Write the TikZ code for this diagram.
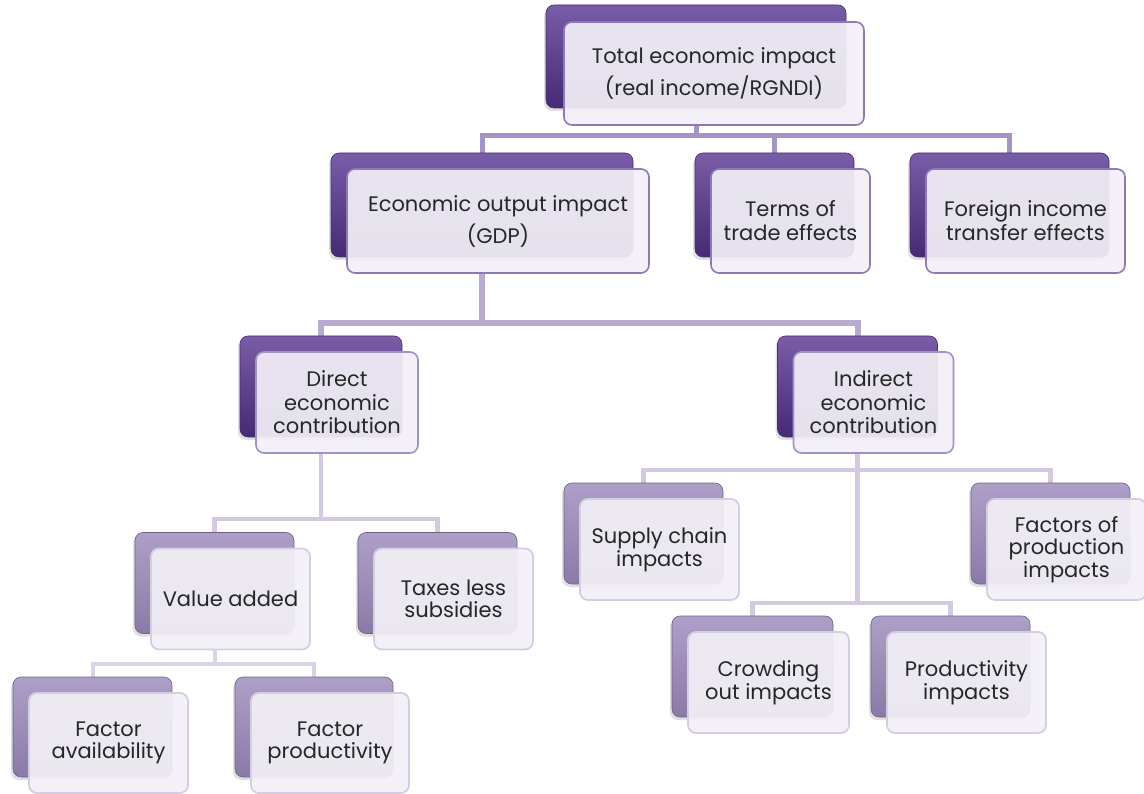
\documentclass[tikz,border=0pt]{standalone}
\usepackage{fontspec}
\setmainfont{Poppins}
\usetikzlibrary{shadows}
\pgfdeclarelayer{bg}
\pgfsetlayers{bg,main}
\definecolor{darkback}{HTML}{5B3C8A}
\definecolor{darktop}{HTML}{7A5CA8}
\definecolor{darkbot}{HTML}{462A74}
\definecolor{lighttop}{HTML}{AE9FC8}
\definecolor{lightbot}{HTML}{8B7AA7}
\definecolor{facefill}{HTML}{F2F0F6}
\definecolor{edgeA}{HTML}{9078B8}
\definecolor{edgeB}{HTML}{A391C4}
\definecolor{edgeC}{HTML}{D5CDE3}
\definecolor{linkA}{HTML}{A593C6}
\definecolor{linkB}{HTML}{B9ABD0}
\definecolor{linkC}{HTML}{D3CAE2}
\definecolor{linkD}{HTML}{DAD3E7}
\definecolor{txt}{HTML}{262626}
\tikzset{
	backbox/.style={rectangle,rounded corners=8pt,draw=#1!80!black,line width=0.6pt,drop shadow={shadow xshift=-2pt,shadow yshift=-3pt,opacity=.25}},
	backA/.style={backbox=darkback,top color=darktop,bottom color=darkbot},
	backB/.style={backbox=lightbot,top color=lighttop,bottom color=lightbot},
	facebox/.style={rectangle,rounded corners=8pt,fill=facefill,fill opacity=.93,text opacity=1,draw=#1,line width=1.6pt,align=center,text=txt},
	faceA/.style={facebox=edgeA,font=\fontsize{21}{32}\selectfont},
	faceAA/.style={facebox=edgeA,font=\fontsize{21}{24}\selectfont},
	faceB/.style={facebox=edgeB,font=\fontsize{21}{23.5}\selectfont},
	faceC/.style={facebox=edgeC,line width=1.8pt,font=\fontsize{21}{22.5}\selectfont},
	linkzero/.style={linkA,line width=5pt},
	linkone/.style={linkB,line width=6pt},
	linktwo/.style={linkC,line width=4.5pt},
	linkthree/.style={linkD,line width=4pt}
}
\begin{document}
\begin{tikzpicture}[x=1pt,y=-1pt]
	\useasboundingbox (0,0) rectangle (1144,794);
	\node[backA,minimum width=300pt,minimum height=103pt] (totalb) at (696,56.5) {};
	\node[faceA,minimum width=300pt,minimum height=103pt] (total) at ([shift={(18,17)}]totalb) {Total economic impact\\(real income/RGNDI)};
	\node[backA,minimum width=302pt,minimum height=104pt] (gdpb) at (482,205) {};
	\node[faceA,minimum width=302pt,minimum height=104pt] (gdp) at ([shift={(16,16)}]gdpb) {Economic output impact\\(GDP)};
	\node[backA,minimum width=159pt,minimum height=104pt] (termsb) at (774.5,205) {};
	\node[faceAA,minimum width=159pt,minimum height=104pt] (terms) at ([shift={(16,16)}]termsb) {Terms of\\trade effects};
	\node[backA,minimum width=199pt,minimum height=104pt] (foreignb) at (1009.5,205) {};
	\node[faceAA,minimum width=199pt,minimum height=104pt] (foreign) at ([shift={(16,16)}]foreignb) {Foreign income\\transfer effects};
	\node[backA,minimum width=162pt,minimum height=101pt] (directb) at (321,386.5) {};
	\node[faceB,minimum width=162pt,minimum height=101pt] (direct) at ([shift={(16,16)}]directb) {Direct\\economic\\contribution};
	\node[backA,minimum width=160pt,minimum height=101pt] (indirectb) at (857.5,386.5) {};
	\node[faceB,minimum width=160pt,minimum height=101pt] (indirect) at ([shift={(16,16)}]indirectb) {Indirect\\economic\\contribution};
	\node[backB,minimum width=159pt,minimum height=101pt] (valueb) at (214.5,583) {};
	\node[faceC,minimum width=159pt,minimum height=101pt] (value) at ([shift={(16,16)}]valueb) {Value added};
	\node[backB,minimum width=159pt,minimum height=101pt] (taxesb) at (437.5,583) {};
	\node[faceC,minimum width=159pt,minimum height=101pt] (taxes) at ([shift={(16,16)}]taxesb) {Taxes less\\subsidies};
	\node[backB,minimum width=159pt,minimum height=101pt] (supplyb) at (643.5,533.5) {};
	\node[faceC,minimum width=159pt,minimum height=101pt] (supply) at ([shift={(16,16)}]supplyb) {Supply chain\\impacts};
	\node[backB,minimum width=159pt,minimum height=101pt] (factorsb) at (1050.5,533.5) {};
	\node[faceC,minimum width=159pt,minimum height=101pt] (factors) at ([shift={(16,16)}]factorsb) {Factors of\\production\\impacts};
	\node[backB,minimum width=161pt,minimum height=101pt] (crowdb) at (752.5,666.5) {};
	\node[faceC,minimum width=161pt,minimum height=101pt] (crowd) at ([shift={(16,16)}]crowdb) {Crowding\\out impacts};
	\node[backB,minimum width=159pt,minimum height=101pt] (prodb) at (950.5,666.5) {};
	\node[faceC,minimum width=159pt,minimum height=101pt] (prod) at ([shift={(16,16)}]prodb) {Productivity\\impacts};
	\node[backB,minimum width=159pt,minimum height=100pt] (availb) at (92.5,727) {};
	\node[faceC,minimum width=159pt,minimum height=100pt] (avail) at ([shift={(16,16)}]availb) {Factor\\availability};
	\node[backB,minimum width=158pt,minimum height=100pt] (fprodb) at (314,727) {};
	\node[faceC,minimum width=158pt,minimum height=100pt] (fprod) at ([shift={(16,16)}]fprodb) {Factor\\productivity};
	\begin{pgfonlayer}{bg}
		\draw[linkzero] (total.south -| totalb) -- ++(0,10) -| (gdpb.north);
		\draw[linkzero] (total.south -| totalb) -- ++(0,10) -| (termsb.north);
		\draw[linkzero] (total.south -| totalb) -- ++(0,10) -| (foreignb.north);
		\draw[linkone] (gdp.south -| gdpb) -- ++(0,49) -| (directb.north);
		\draw[linkone] (gdp.south -| gdpb) -- ++(0,49) -| (indirectb.north);
		\draw[linktwo] (direct.south -| directb) -- ++(0,65) -| (valueb.north);
		\draw[linktwo] (direct.south -| directb) -- ++(0,65) -| (taxesb.north);
		\draw[linktwo] (indirect.south -| indirectb) -- ++(0,16) -| (supplyb.north);
		\draw[linktwo] (indirect.south -| indirectb) -- ++(0,16) -| (factorsb.north);
		\draw[linktwo] (indirect.south -| indirectb) -- ++(0,149) -| (crowdb.north);
		\draw[linktwo] (indirect.south -| indirectb) -- ++(0,149) -| (prodb.north);
		\draw[linkthree] (value.south -| valueb) -- ++(0,14) -| (availb.north);
		\draw[linkthree] (value.south -| valueb) -- ++(0,14) -| (fprodb.north);
	\end{pgfonlayer}
\end{tikzpicture}
\end{document}
